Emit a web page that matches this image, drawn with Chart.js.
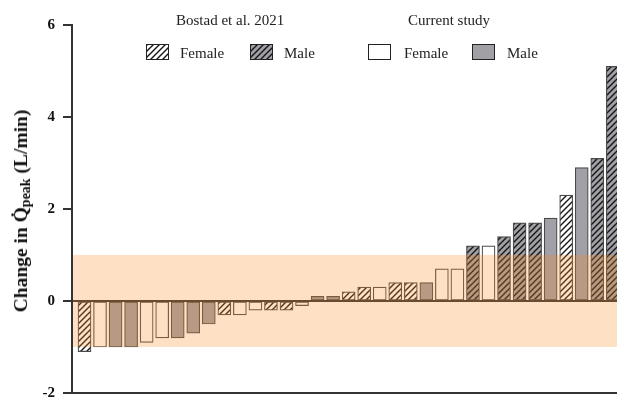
<!DOCTYPE html>
<html>
<head>
<meta charset="utf-8">
<script src="https://cdn.jsdelivr.net/npm/chart.js@4/dist/chart.umd.min.js"></script>
<style>
  html, body { margin: 0; padding: 0; background: #fff; overflow: hidden; }
  #wrap { position: relative; width: 617px; height: 399px; }
  #chart { position: absolute; left: 0; top: 0; }
  .lbl { position: absolute; font-family: "Liberation Serif", "Times New Roman", serif; font-size: 15px; color: #222; line-height: 15px; white-space: nowrap; }
  .box { position: absolute; width: 21px; height: 14px; border: 1.5px solid #222; }
  #ytitle { position: absolute; left: 22px; top: 211px; transform: translate(-50%, -50%) rotate(-90deg);
            font-family: "Liberation Serif", "Times New Roman", serif; font-weight: bold; font-size: 19.5px; color: #111; white-space: nowrap; }
  #ytitle sub { font-size: 14px; vertical-align: -3px; }
</style>
</head>
<body>
<div id="wrap">
  <canvas id="chart" width="617" height="399"></canvas>

  <div class="lbl" style="left:176px; top:13px;">Bostad et al. 2021</div>
  <div class="lbl" style="left:408px; top:13px;">Current study</div>

  <div class="box" id="legBF" style="left:146px; top:44px;"></div>
  <div class="lbl" style="left:180px; top:46px;">Female</div>
  <div class="box" id="legBM" style="left:250px; top:44px;"></div>
  <div class="lbl" style="left:284px; top:46px;">Male</div>
  <div class="box" id="legCF" style="left:368px; top:44px;"></div>
  <div class="lbl" style="left:404px; top:46px;">Female</div>
  <div class="box" id="legCM" style="left:472px; top:44px;"></div>
  <div class="lbl" style="left:507px; top:46px;">Male</div>

  <div id="ytitle">Change in Q̇<sub>peak</sub> (L/min)</div>
</div>

<script>
// Change in peak cardiac output per participant, sorted ascending
const changes = [-1.1, -1.0, -1.0, -1.0, -0.9, -0.8, -0.8, -0.7, -0.5, -0.3, -0.3, -0.2, -0.2, -0.2, -0.1,
                 0.1, 0.1, 0.2, 0.3, 0.3, 0.4, 0.4, 0.4, 0.7, 0.7, 1.2, 1.2, 1.4, 1.7, 1.7, 1.8, 2.3, 2.9, 3.1, 5.1];
// 'B' = Bostad et al. 2021, 'C' = current study
const cohort = ['B','C','C','C','C','C','C','C','C','B','C','C','B','B','C','C','C','B','B','C','B','B','C','C','C','B','C','B','B','B','C','B','C','B','B'];
// 'F' = female, 'M' = male
const sex = ['F','F','M','M','F','F','M','M','M','F','F','F','F','F','F','M','M','F','F','F','F','F','M','F','F','M','F','M','M','M','M','F','M','M','M'];
// y-axis ticks
const yTicks = [-2, 0, 2, 4, 6];
// band of typical day-to-day variation
const bandLow = -1, bandHigh = 1;

const WHITE = '#ffffff';
const GREY = '#a0a0a6';

function hatchTile(fill) {
  const c = document.createElement('canvas');
  c.width = 6; c.height = 6;
  const g = c.getContext('2d');
  g.fillStyle = fill;
  g.fillRect(0, 0, 6, 6);
  g.strokeStyle = '#151515';
  g.lineWidth = 1.4;
  g.beginPath();
  g.moveTo(-1, 7); g.lineTo(7, -1);
  g.moveTo(-1, 1); g.lineTo(1, -1);
  g.moveTo(5, 7); g.lineTo(7, 5);
  g.stroke();
  return c;
}

const canvas = document.getElementById('chart');
const ctx = canvas.getContext('2d');
const tileBF = hatchTile(WHITE);
const tileBM = hatchTile(GREY);
const fills = {
  BF: ctx.createPattern(tileBF, 'repeat'),
  BM: ctx.createPattern(tileBM, 'repeat'),
  CF: WHITE,
  CM: GREY
};

document.getElementById('legBF').style.background = 'url(' + tileBF.toDataURL() + ')';
document.getElementById('legBM').style.background = 'url(' + tileBM.toDataURL() + ')';
document.getElementById('legCF').style.background = WHITE;
document.getElementById('legCM').style.background = GREY;

const points = changes.map((v, i) => ({ x: i + 1, y: v }));

const bandPlugin = {
  id: 'variationBand',
  afterDatasetsDraw(chart) {
    const { ctx, chartArea, scales } = chart;
    const yTop = scales.y.getPixelForValue(bandHigh);
    const yBot = scales.y.getPixelForValue(bandLow);
    ctx.save();
    ctx.fillStyle = 'rgba(250, 140, 40, 0.27)';
    ctx.fillRect(chartArea.left + 1, yTop, chartArea.right - chartArea.left, yBot - yTop);
    ctx.restore();
  }
};

new Chart(canvas, {
  type: 'bar',
  data: {
    datasets: [{
      data: points,
      backgroundColor: (c) => fills[cohort[c.dataIndex] + sex[c.dataIndex]],
      borderColor: '#4a4a4a',
      borderWidth: 1.2,
      borderSkipped: false,
      barThickness: 13
    }]
  },
  options: {
    responsive: false,
    animation: false,
    layout: { padding: { top: 25, bottom: 6, left: 0, right: 0 } },
    plugins: { legend: { display: false }, tooltip: { enabled: false } },
    scales: {
      x: {
        type: 'linear',
        offset: false,
        min: 0.196,
        max: 35.27,
        ticks: { display: false, includeBounds: false },
        grid: { display: false, drawTicks: false, offset: false },
        border: { display: true, color: '#333', width: 2 },
        afterFit: (s) => { s.height = 0; }
      },
      y: {
        min: -2,
        max: 6,
        afterBuildTicks: (s) => { s.ticks = yTicks.map(v => ({ value: v })); },
        ticks: {
          color: '#111',
          padding: 8,
          font: { family: 'Liberation Serif', size: 15, weight: 'bold' }
        },
        grid: {
          drawOnChartArea: true,
          drawTicks: true,
          tickLength: 9,
          lineWidth: 2,
          color: (c) => (c.tick && c.tick.value === 0) ? '#333' : 'rgba(0,0,0,0)',
          tickColor: '#333'
        },
        border: { display: true, color: '#333', width: 2 },
        afterFit: (s) => { s.width = 72; s.paddingTop = 0; s.paddingBottom = 0; }
      }
    }
  },
  plugins: [bandPlugin]
});
</script>
</body>
</html>
